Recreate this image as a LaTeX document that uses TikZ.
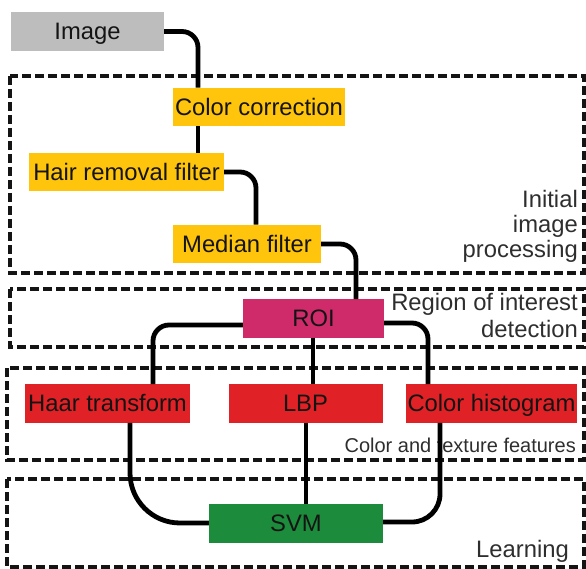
\documentclass[tikz,border=0pt]{standalone}
\usepackage{fontspec}
\setmainfont{Liberation Sans}
\definecolor{imggray}{HTML}{BDBDBD}
\definecolor{prepyellow}{HTML}{FFC40C}
\definecolor{roipink}{HTML}{CF2A6A}
\definecolor{featred}{HTML}{E02126}
\definecolor{svmgreen}{HTML}{1C8C3C}
\begin{document}
\begin{tikzpicture}[x=1pt,y=-1pt,
  box/.style={rectangle, inner sep=0pt, minimum height=38.5pt,
    text height=16.8pt, text depth=0pt,
    font=\fontsize{23.8}{27}\selectfont, text=black!92},
  stage/.style={draw=black!92, line width=3.2pt, dash pattern=on 9pt off 4pt},
  link/.style={draw=black, line width=4.8pt, rounded corners=16pt},
  tag/.style={anchor=base east, inner sep=0pt,
    font=\fontsize{23.8}{27}\selectfont, text=black!82},
]
\useasboundingbox (0,0) rectangle (586,569);

% processing stages
\draw[stage] (10,76) rectangle (584,273);
\draw[stage] (10,289) rectangle (584,347);
\draw[stage] (7,368) rectangle (584,460);
\draw[stage] (7,479) rectangle (584,567);

% stage captions
\node[tag] (capA1) at (578,208) {Initial};
\node[tag] (capA2) at (578,233) {image};
\node[tag] (capA3) at (578,258) {processing};
\node[tag] (capB1) at (578,310) {Region of interest};
\node[tag] (capB2) at (578,337) {detection};
\node[tag, font=\fontsize{20}{24}\selectfont] (capC) at (576,452) {Color and texture features};
\node[tag] (capD) at (569,557) {Learning};

% pipeline blocks
\node[box, fill=imggray, minimum width=153pt] (img) at (87.5,31.5) {Image};
\node[box, fill=prepyellow, minimum width=172pt] (cc) at (259,107) {Color correction};
\node[box, fill=prepyellow, minimum width=195pt] (hair) at (126.5,172) {Hair removal filter};
\node[box, fill=prepyellow, minimum width=148pt] (med) at (247,244) {Median filter};
\node[box, fill=roipink, minimum width=141pt] (roi) at (313.5,318.5) {ROI};
\node[box, fill=featred, minimum width=165pt] (haar) at (107.5,403.5) {Haar transform};
\node[box, fill=featred, minimum width=154pt] (lbp) at (305.5,403.5) {LBP};
\node[box, fill=featred, minimum width=171pt] (hist) at (491.5,403.5) {Color histogram};
\node[box, fill=svmgreen, minimum width=174pt] (svm) at (296,523.5) {SVM};

% routing guides for the connectors
\coordinate (g1) at (198,0);
\coordinate (g3) at (256,0);
\coordinate (g4) at (356,0);
\coordinate (g5) at (153,325);
\coordinate (g6) at (313,0);
\coordinate (g7) at (428,323);
\coordinate (g8) at (130,523);
\coordinate (g9) at (306,0);
\coordinate (g10) at (440,522);

% connectors
\draw[link] (img.east) -| (cc.north -| g1);
\draw[link] (cc.south -| g1) -- (hair.north -| g1);
\draw[link] (hair.east) -| (med.north -| g3);
\draw[link] (med.east) -| (roi.north -| g4);
\draw[link] (roi.west |- g5) -| (haar.north -| g5);
\draw[link] (roi.south -| g6) -- (lbp.north -| g6);
\draw[link] (roi.east |- g7) -| (hist.north -| g7);
\draw[link, rounded corners=50pt] (haar.south -| g8) |- (svm.west |- g8);
\draw[link] (lbp.south -| g9) -- (svm.north -| g9);
\draw[link, rounded corners=28pt] (hist.south -| g10) |- (svm.east |- g10);
\end{tikzpicture}
\end{document}
